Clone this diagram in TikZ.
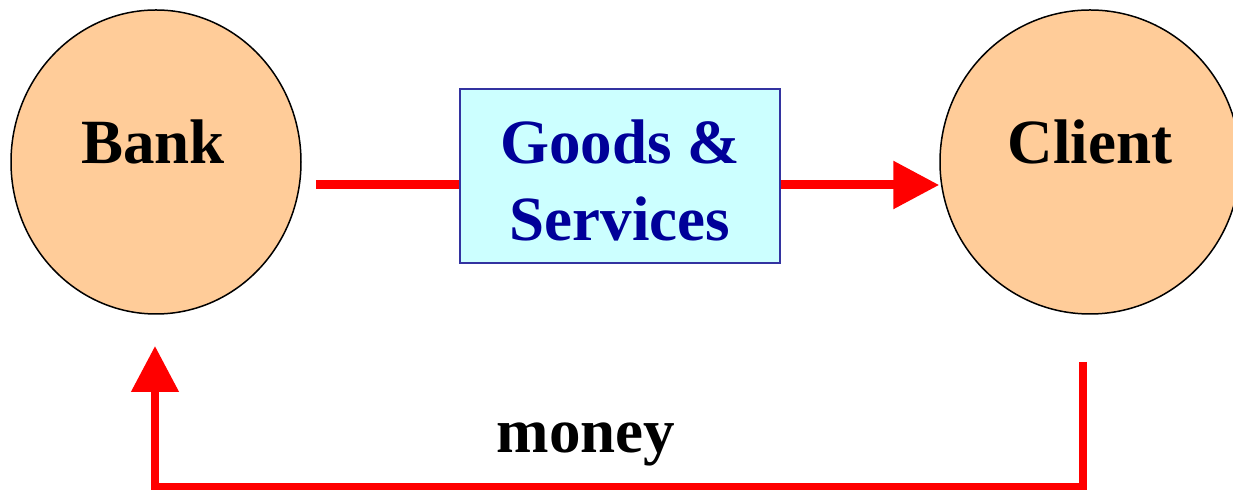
\documentclass[tikz,border=0pt]{standalone}
\usepackage{fontspec}
\setmainfont{Liberation Serif}
\usetikzlibrary{shapes.geometric,arrows.meta}
\definecolor{peach}{HTML}{FFCC99}
\definecolor{boxfill}{HTML}{CCFFFF}
\definecolor{boxline}{HTML}{3333A0}
\definecolor{navy}{HTML}{000099}
\tikzset{
  party/.style={ellipse, draw=black, line width=0.75pt, fill=peach, inner sep=0pt,
    minimum width=145pt, minimum height=152pt},
  bigtext/.style={font=\fontsize{31.5}{38.5}\selectfont\bfseries, inner sep=0pt, anchor=base},
  flow/.style={draw=red, line width=4.5pt},
  tip/.style={-{Triangle[length=23pt,width=23pt]}}
}
\begin{document}
\begin{tikzpicture}[x=0.5pt,y=-0.5pt]
\useasboundingbox (0,0) rectangle (1233,490);
\node[party] (bank) at (156,162) {};
\node[party, minimum width=150pt] (client) at (1090,162) {};
\node[draw=boxline, line width=1pt, fill=boxfill, minimum width=160pt, minimum height=87pt, inner sep=0pt] (goods) at (620,176) {};
\node[bigtext] (banktxt) at (153,164) {Bank};
\node[bigtext] (clienttxt) at (1090,164) {Client};
\node[bigtext, text=navy] (gtxt1) at (620,164) {Goods \&};
\node[bigtext, text=navy] (gtxt2) at (620,241) {Services};
\node[bigtext] (moneytxt) at (586,453) {money};
\coordinate (gs0) at (316,185);
\draw[flow, line cap=butt] (gs0) -- (goods.west |- gs0);
\draw[flow, tip] (goods.east |- gs0) -- (client.west |- gs0);
\coordinate (m0) at (1083,362);
\coordinate (m1) at (155,346);
\draw[flow, line width=4pt, tip] (m0) -- (m0 |- 0,487) -- (m1 |- 0,487) -- (m1);
\end{tikzpicture}
\end{document}
